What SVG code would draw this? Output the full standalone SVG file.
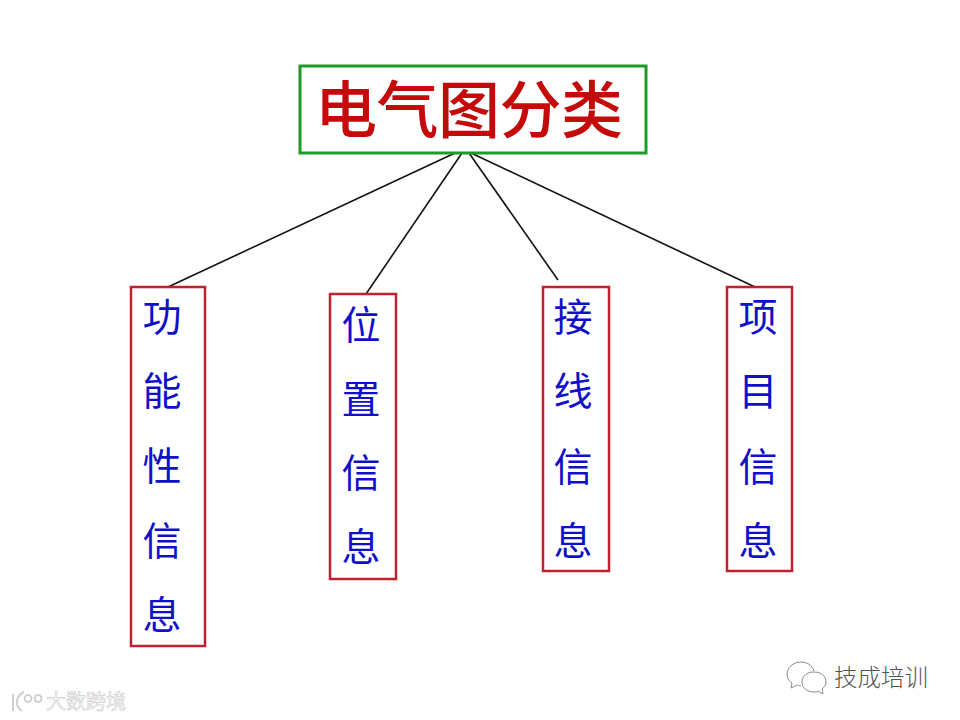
<svg xmlns="http://www.w3.org/2000/svg" width="960" height="720" viewBox="0 0 960 720">
<style>
text{font-family:"Noto Sans CJK SC","Noto Sans CJK JP",sans-serif;text-anchor:middle}
.box{fill:#fff;stroke:#c02030;stroke-width:2.500}
.c{fill:#1010c8;font-size:39px}
.l{stroke:#111;stroke-width:1.600;fill:none}
.wm{fill:none;stroke:#8a8a8a;stroke-width:1}
</style>
<rect width="960" height="720" fill="#fff"/>
<g id="connectors">
<line class="l" x1="455" y1="153" x2="168" y2="287"/>
<line class="l" x1="462" y1="153" x2="366" y2="294"/>
<line class="l" x1="469" y1="153" x2="558" y2="280"/>
<line class="l" x1="471" y1="153" x2="755" y2="287"/>
</g>
<g id="root">
<rect x="300" y="66" width="346" height="87" fill="#fff" stroke="#1f9a2a" stroke-width="3"/>
<text x="469" y="133" font-size="62" font-weight="500" fill="#c40a0a" textLength="308" lengthAdjust="spacing">电气图分类</text>
</g>
<g id="node1">
<rect class="box" x="131" y="287" width="74" height="359"/>
<text class="c" x="162" y="331">功</text><text class="c" x="162" y="405">能</text><text class="c" x="162" y="480">性</text><text class="c" x="162" y="555">信</text><text class="c" x="162" y="629">息</text>
</g>
<g id="node2">
<rect class="box" x="330" y="294" width="66" height="285"/>
<text class="c" x="361" y="339">位</text><text class="c" x="361" y="413">置</text><text class="c" x="361" y="487">信</text><text class="c" x="361" y="561">息</text>
</g>
<g id="node3">
<rect class="box" x="543" y="287" width="66" height="284"/>
<text class="c" x="573" y="331">接</text><text class="c" x="573" y="405">线</text><text class="c" x="573" y="481">信</text><text class="c" x="573" y="555">息</text>
</g>
<g id="node4">
<rect class="box" x="727" y="287" width="65" height="284"/>
<text class="c" x="758" y="331">项</text><text class="c" x="758" y="405">目</text><text class="c" x="758" y="481">信</text><text class="c" x="758" y="555">息</text>
</g>
<g id="watermark-right">
<path class="wm" d="M801 662c-8 0-14 6-14 12 0 4 2 7 5 9l-1 5 6-3c1 0 2 1 4 1"/>
<path class="wm" d="M814 672c-7 0-12 4-12 10s5 10 12 10c1 0 3 0 4-1l5 3-1-5c2-2 4-4 4-7 0-6-5-10-12-10z"/>
<path class="wm" d="M801 662c6 0 11 3 13 9"/>
<text x="881" y="686" font-size="23.500" fill="#555" font-weight="300">技成培训</text>
</g>
<g id="watermark-left">
<path d="M13 694v17M24 692c-8 4-10 14-2 19M28 695a3.500 3.500 0 1 0 .1 0M38 695a3.500 3.500 0 1 0 .1 0" fill="none" stroke="#cfcfcf" stroke-width="2"/>
<text x="86" y="709" font-size="20" fill="#fff" stroke="#cfcfcf" stroke-width=".7">大数跨境</text>
</g>
</svg>
